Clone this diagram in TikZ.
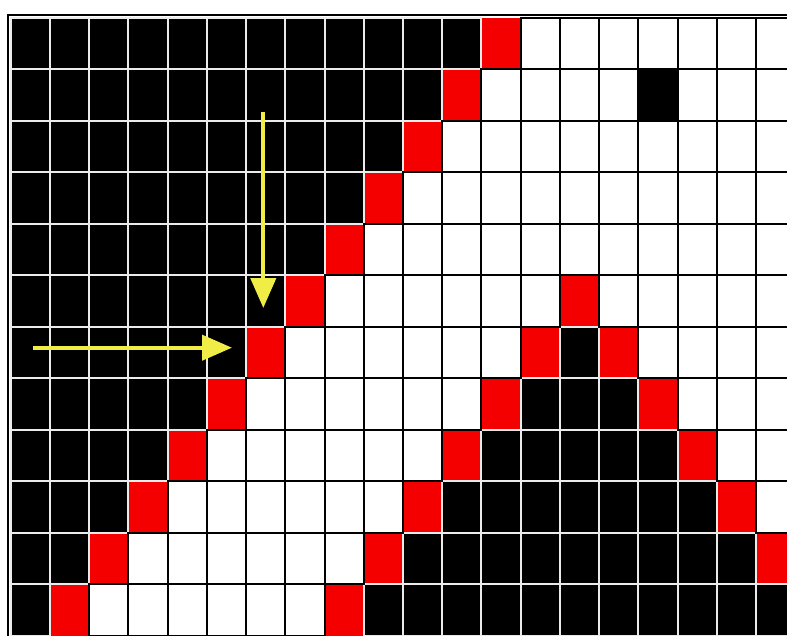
\documentclass[tikz,border=0pt]{standalone}
\usetikzlibrary{arrows.meta}
\definecolor{cellred}{RGB}{245,0,0}
\definecolor{arrowyellow}{RGB}{240,238,70}
\definecolor{linewhite}{RGB}{235,235,235}
\tikzset{
  gridwhite/.style={draw=linewhite, line width=2},
  gridblack/.style={draw=black, line width=2},
  yarrow/.style={draw=arrowyellow, line width=4.2, -{Triangle[length=30,width=25]}},
}
\begin{document}
\begin{tikzpicture}[x=1pt,y=-1pt]
\useasboundingbox (0,0) rectangle (787,635);
\fill[white] (0,0) rectangle (787,635);
\begin{scope}
\clip (0,0) rectangle (787,635);
\def\cw{39.22}
\def\rh{51.5}
\def\xo{10.8}
\def\yo{17.5}
% fills
\foreach \r in {0,...,11}{
  \foreach \c in {0,...,19}{
    \pgfmathtruncatemacro{\s}{(\c<12-\r) ? 1 : ((\c==12-\r) ? 2 : ((\r>=5 && abs(\c-14)==\r-5) ? 2 : ((\r>=5 && abs(\c-14)<\r-5) ? 1 : ((\r==1 && \c==16) ? 1 : 0))))}
    \pgfmathsetmacro{\xa}{\xo+\c*\cw}
    \pgfmathsetmacro{\ya}{\yo+\r*\rh}
    \ifcase\s
      \fill[white] (\xa,\ya) rectangle ++(\cw,\rh);
    \or
      \fill[black] (\xa,\ya) rectangle ++(\cw,\rh);
    \or
      \fill[cellred] (\xa,\ya) rectangle ++(\cw,\rh);
    \fi
  }
}
% white lines around black cells
\foreach \r in {0,...,11}{
  \foreach \c in {0,...,19}{
    \pgfmathtruncatemacro{\s}{(\c<12-\r) ? 1 : ((\c==12-\r) ? 2 : ((\r>=5 && abs(\c-14)==\r-5) ? 2 : ((\r>=5 && abs(\c-14)<\r-5) ? 1 : ((\r==1 && \c==16) ? 1 : 0))))}
    \pgfmathsetmacro{\xa}{\xo+\c*\cw}
    \pgfmathsetmacro{\ya}{\yo+\r*\rh}
    \ifnum\s=1
      \draw[gridwhite] (\xa,\ya) rectangle ++(\cw,\rh);
    \fi
  }
}
% black lines around white cells
\foreach \r in {0,...,11}{
  \foreach \c in {0,...,19}{
    \pgfmathtruncatemacro{\s}{(\c<12-\r) ? 1 : ((\c==12-\r) ? 2 : ((\r>=5 && abs(\c-14)==\r-5) ? 2 : ((\r>=5 && abs(\c-14)<\r-5) ? 1 : ((\r==1 && \c==16) ? 1 : 0))))}
    \pgfmathsetmacro{\xa}{\xo+\c*\cw}
    \pgfmathsetmacro{\ya}{\yo+\r*\rh}
    \ifnum\s=0
      \draw[gridblack] (\xa,\ya) rectangle ++(\cw,\rh);
    \fi
  }
}
% outer frame
\draw[black, line width=2] (8.2,640) -- (8.2,15.3) -- (790,15.3);
% arrows
\coordinate (vstart) at (263.3,112);
\coordinate (vend) at (263.3,308);
\coordinate (hstart) at (33,347.7);
\coordinate (hend) at (232,347.7);
\draw[yarrow] (vstart) -- (vend);
\draw[yarrow] (hstart) -- (hend);
\end{scope}
\end{tikzpicture}
\end{document}
